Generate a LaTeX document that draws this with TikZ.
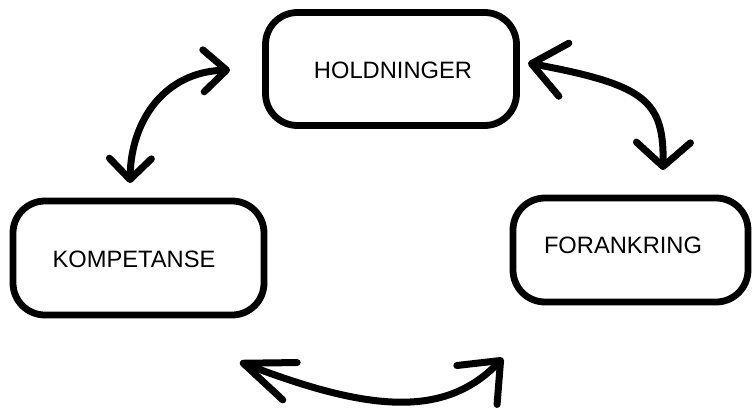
\documentclass[tikz,border=0pt]{standalone}
\usepackage{fontspec}
\setmainfont{Liberation Sans}
\usetikzlibrary{arrows.meta}
\begin{document}
\begin{tikzpicture}[x=1pt,y=-1pt,
  box/.style={draw, line width=6.8pt, rounded corners=32pt, inner sep=0pt},
  lbl/.style={font=\fontsize{23.7}{28}\selectfont, inner sep=0pt, anchor=base},
  link/.style={line width=7pt, line cap=round, line join=round}]
\useasboundingbox (0,0) rectangle (755,410);
% boxes
\node[box, minimum width=251pt, minimum height=113pt] (hold) at (391,69) {};
\node[box, minimum width=251pt, minimum height=114pt] (komp) at (138.5,258) {};
\node[box, minimum width=235pt, minimum height=104pt] (fora) at (630.5,250) {};
% labels
\node[lbl] (holdt) at (393,78) {HOLDNINGER};
\node[lbl] (kompt) at (134,267) {KOMPETANSE};
\node[lbl] (forat) at (623,253) {FORANKRING};
% arrow end points
\coordinate (a1s) at (130,183);
\coordinate (a1e) at (230,70);
\coordinate (a2s) at (528,63);
\coordinate (a2e) at (663,170);
\coordinate (a3s) at (240,362);
\coordinate (a3e) at (503,358);
% arrows
\draw[link, {Straight Barb[length=21pt,width=42pt,round]}-{Straight Barb[length=23pt,width=42pt,round]}]
  (a1s) .. controls (131,120) and (165,72) .. (a1e);
\draw[link, {Straight Barb[length=33pt,width=54pt,round]}-{Straight Barb[length=24pt,width=54pt,round]}]
  (a2s) .. controls (645,85) and (664,100) .. (a2e);
\draw[link, {Straight Barb[length=50pt,width=40pt,round]}-{Straight Barb[length=34pt,width=56pt,round]}]
  (a3s) .. controls (370,412) and (445,418) .. (a3e);
\end{tikzpicture}
\end{document}
